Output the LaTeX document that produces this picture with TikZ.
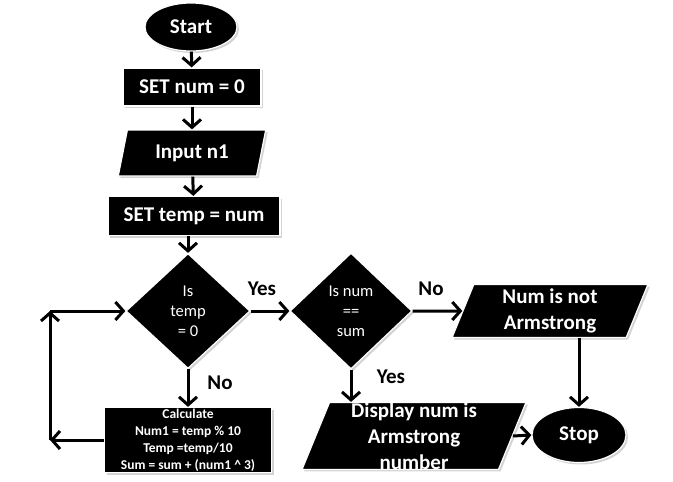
\documentclass[tikz,border=0pt]{standalone}
\usepackage{fontspec}
\setmainfont{Carlito}
\usetikzlibrary{shapes.geometric,arrows.meta,shadows}
\tikzset{
  blk/.style={fill=black, draw=white, line width=1.2pt, text=white, align=center, inner sep=0pt,
    drop shadow={shadow xshift=2pt, shadow yshift=-2pt, opacity=0.35, fill=gray}},
  term/.style={blk, ellipse, font=\bfseries\fontsize{21}{24}\selectfont},
  procbox/.style={blk, rectangle, font=\bfseries\fontsize{21}{24}\selectfont},
  iobox/.style={blk, trapezium, trapezium stretches=true, trapezium left angle=73,
    trapezium right angle=107, font=\bfseries\fontsize{21}{26}\selectfont},
  decision/.style={blk, diamond, font=\fontsize{16.5}{20}\selectfont},
  lbl/.style={font=\bfseries\fontsize{21}{24}\selectfont},
  arr/.style={line width=3pt, -{Straight Barb[length=8pt,width=18pt]}}
}
\begin{document}
\begin{tikzpicture}[x=1pt,y=-1pt]
  \useasboundingbox (0,0) rectangle (673,482);
  \node[term, minimum width=92pt, minimum height=48pt] (start) at (191,27) {Start};
  \node[procbox, minimum width=138pt, minimum height=38pt] (setnum) at (192,87) {SET num = 0};
  \node[iobox, minimum width=148pt, minimum height=46pt] (input) at (192,153) {Input n1};
  \node[procbox, minimum width=172pt, minimum height=39pt] (settemp) at (194,216) {SET temp = num};
  \node[decision, minimum width=124pt, minimum height=115pt] (dec1) at (188,311) {Is\\temp\\= 0};
  \node[decision, minimum width=122pt, minimum height=116pt] (dec2) at (351,311) {Is num\\==\\sum};
  \node[iobox, minimum width=196pt, minimum height=53pt] (notarm) at (550,311) {Num is not\\Armstrong};
  \node[procbox, minimum width=167pt, minimum height=65pt, font=\bfseries\fontsize{13.5}{17}\selectfont]
    (calc) at (188,440) {Calculate\\Num1 = temp \% 10\\Temp =temp/10\\Sum = sum + (num1 \^{} 3)};
  \node[iobox, minimum width=224pt, minimum height=66pt] (disp) at (414,436) {Display num is\\Armstrong\\number};
  \node[term, minimum width=94pt, minimum height=55pt] (stop) at (579,435) {Stop};
  \coordinate (loopa) at (50,440);
  \coordinate (loopb) at (50,311);
  \node[lbl] (yes1) at (262,289) {Yes};
  \node[lbl] (no1) at (220,383) {No};
  \node[lbl] (no2) at (431,289) {No};
  \node[lbl] (yes2) at (391,377) {Yes};
  \begin{scope}[arr]
    \draw (start) -- (setnum);
    \draw (setnum) -- (input);
    \draw (input) -- (settemp);
    \draw (settemp.south -| dec1.north) -- (dec1.north);
    \draw (dec1.east) -- (dec2.west);
    \draw (dec2.east) -- (notarm.west);
    \draw (dec1.south) -- (calc.north);
    \draw (dec2.south) -- (dec2.south |- disp.north);
    \draw (disp.east) -- (stop.west);
    \draw (stop.north |- notarm.south) -- (stop.north);
    \draw (calc.west) -- (loopa);
    \draw (loopa) -- (loopb);
    \draw (loopb) -- (dec1.west);
  \end{scope}
\end{tikzpicture}
\end{document}
